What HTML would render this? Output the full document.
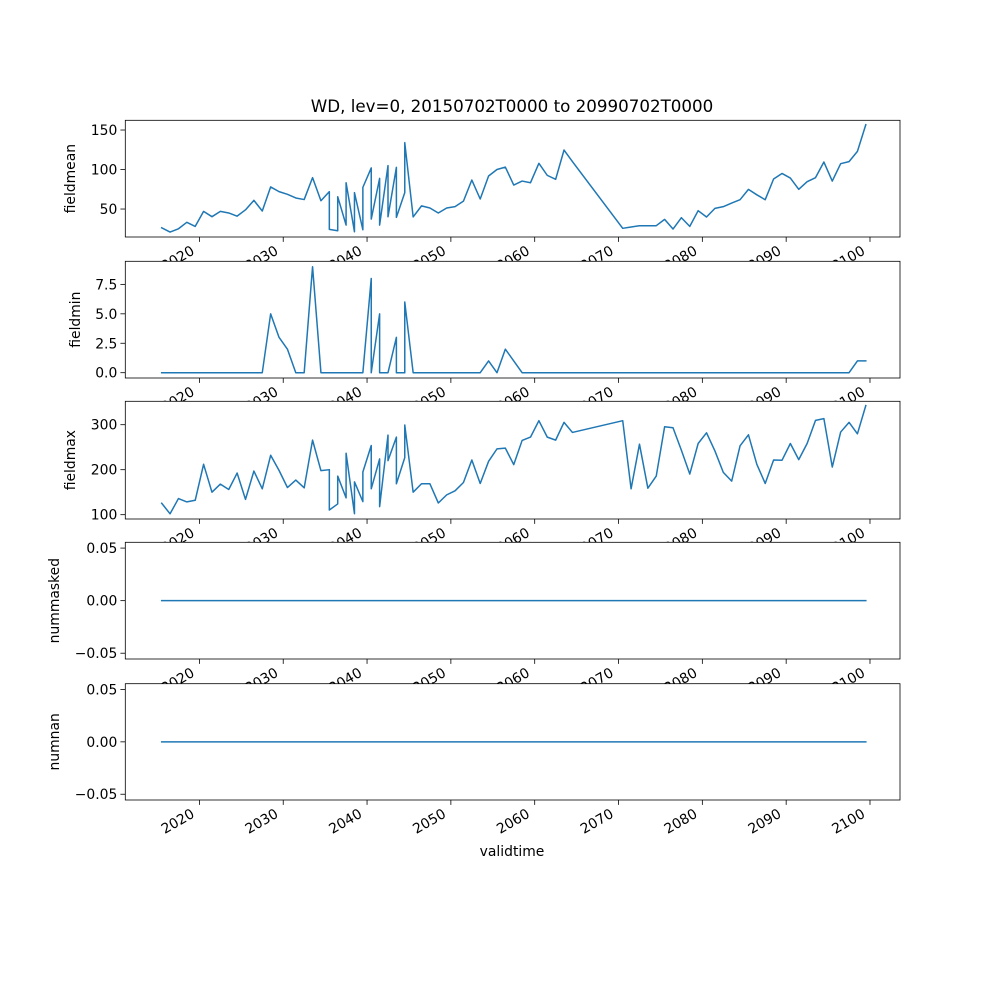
<!DOCTYPE html>
<html><head><meta charset="utf-8"><style>
html,body{margin:0;padding:0;background:#fff}
svg{display:block}
text{font-family:"DejaVu Sans","Liberation Sans",sans-serif;fill:#000}
</style></head><body>
<svg id="chart" width="1000" height="1000" viewBox="0 0 1000 1000" xmlns="http://www.w3.org/2000/svg">
<rect width="1000" height="1000" fill="#fff"/>
<text x="512" y="112" font-size="16.7" text-anchor="middle">WD, lev=0, 20150702T0000 to 20990702T0000</text>
<text x="512" y="856" font-size="13.9" text-anchor="middle">validtime</text>
</svg>
<script>
const pre=[2015.5,2016.5,2017.5,2018.5,2019.5,2020.5,2021.5,2022.5,2023.5,2024.5,2025.5,2026.5,2027.5,2028.5,2029.5,2030.5,2031.5,2032.5,2033.5,2034.5];
const times=[2015.5,2016.5,2017.5,2018.5,2019.5,2020.5,2021.5,2022.5,2023.5,2024.5,2025.5,2026.5,2027.5,2028.5,2029.5,2030.5,2031.5,2032.5,2033.5,2034.5,
2035.5,2035.5,2036.5,2036.5,2037.5,2037.5,2038.5,2038.5,2039.5,2039.5,2040.5,2040.5,2041.5,2041.5,2042.5,2042.5,2043.5,2043.5,2044.5,2044.5,
2045.5,2046.5,2047.5,2048.5,2049.5,2050.5,2051.5,2052.5,2053.5,2054.5,2055.5,2056.5,2057.5,2058.5,2059.5,2060.5,2061.5,2062.5,2063.5,2064.5,
2070.5,2071.5,2072.5,2073.5,2074.5,2075.5,2076.5,2077.5,2078.5,2079.5,2080.5,2081.5,2082.5,2083.5,2084.5,2085.5,2086.5,2087.5,2088.5,2089.5,2090.5,2091.5,2092.5,2093.5,2094.5,2095.5,2096.5,2097.5,2098.5,2099.5];
const fieldmean=[26.3,20.9,25,33.2,28,47,40.3,47,45,41,49,61,47.5,78,72,68.6,64,62,89.7,60.5,
72,24.3,22.5,65.6,29.7,83.3,21.3,70.7,23.8,77.4,102,37.3,88.8,29.7,105,40.3,102.7,39.5,70.7,134,
40,54,51.3,45,51.3,53,60,86.7,62.7,91.8,100,103,80.4,85.4,83.3,107.8,92.6,87.6,124.7,110,
25.6,27.2,28.9,28.9,28.9,36.9,24.7,39,28,47.9,39.9,50.8,53,57.6,61.8,74.9,68,61.8,88,95,89.2,74.9,84.6,89.7,109.5,85.4,107.4,110,123,156.7];
const fieldmin=[0,0,0,0,0,0,0,0,0,0,0,0,0,5,3,2,0,0,9,0,
0,0,0,0,0,0,0,0,0,0,8,0,5,0,0,0,3,0,0,6,
0,0,0,0,0,0,0,0,0,1,0,2,1,0,0,0,0,0,0,0,
0,0,0,0,0,0,0,0,0,0,0,0,0,0,0,0,0,0,0,0,0,0,0,0,0,0,0,0,1,1];
const fieldmax=[125.4,102,135.8,128.4,132,212,150,168,156,192.5,134,197,157.5,232,198.5,160.4,176.9,159.7,265.7,197.8,
200,110.4,123.9,185.8,137.3,236.6,102.2,173,129,194.8,253.7,157.5,223.9,117.9,276.9,220.2,272.4,168.7,226.8,299.2,
150,168.7,168.7,126,144,153,171.6,221.6,169.4,218.6,246.3,247.8,211.2,265,272.4,308.9,272.4,265.7,305.2,282.8,
308.9,157.5,256.7,158.9,185.8,295.5,293.3,243.3,190.3,258.2,282,241.7,194,174.6,253,277.6,212,169.4,221.6,220.9,258.2,222.4,258.2,309.6,313.4,205.9,283.6,305.2,279.8,342.5];
const nummasked=times.map(()=>0);
const numnan=times.map(()=>0);
const xTicks=[2020,2030,2040,2050,2060,2070,2080,2090,2100];
const meanTicks=[50,100,150];
const minTicks=[0,2.5,5,7.5];
const maxTicks=[100,200,300];
const zeroTicks=[-0.05,0,0.05];

const NS="http://www.w3.org/2000/svg";
const svg=document.getElementById('chart');
const L=125.3,R=900;
const X0=2011.16,X1=2103.58;
function xs(t){return L+(t-X0)/(X1-X0)*(R-L);}
function mk(tag,attrs,parent){const e=document.createElementNS(NS,tag);for(const k in attrs)e.setAttribute(k,attrs[k]);(parent||svg).appendChild(e);return e;}

const panels=[
 {name:'fieldmean',data:fieldmean,top:120.3,bot:237,lo:14.6,hi:162.3,ticks:meanTicks,fmt:v=>String(v),lx:75},
 {name:'fieldmin',data:fieldmin,top:261.3,bot:378,lo:-0.45,hi:9.46,ticks:minTicks,fmt:v=>v.toFixed(1),lx:80},
 {name:'fieldmax',data:fieldmax,top:401.3,bot:519,lo:90.4,hi:352,ticks:maxTicks,fmt:v=>String(v),lx:75},
 {name:'nummasked',data:nummasked,top:542.3,bot:659,lo:-0.0555,hi:0.0555,ticks:zeroTicks,fmt:v=>(v<0?'\u22120.05':v.toFixed(2)),lx:59},
 {name:'numnan',data:numnan,top:683.7,bot:800,lo:-0.0555,hi:0.0555,ticks:zeroTicks,fmt:v=>(v<0?'\u22120.05':v.toFixed(2)),lx:59}
];
panels.forEach((p,i)=>{
 const g=mk('g',{});
 
 
 const ys=v=>p.bot-(v-p.lo)/(p.hi-p.lo)*(p.bot-p.top);
 const bg=mk('rect',{x:L,y:p.top,width:R-L,height:p.bot-p.top,fill:'#fff'},g);
 
 
 const d=p.data.map((v,k)=>(k?'L':'M')+xs(times[k]).toFixed(2)+','+ys(v).toFixed(2)).join('');
 const line=mk('path',{d:d,fill:'none',stroke:'#1f77b4','stroke-width':1.5,'stroke-linejoin':'round','stroke-linecap':'square'},g);
 
 
 const fr=mk('rect',{x:L,y:p.top,width:R-L,height:p.bot-p.top,fill:'none',stroke:'#000','stroke-width':0.8},g);
 
 
 p.ticks.forEach(v=>{
  const y=ys(v);
  mk('line',{x1:L-4.9,x2:L,y1:y,y2:y,stroke:'#000','stroke-width':0.8},g);
  const t=mk('text',{x:L-8,y:y+5,'font-size':13.9,'text-anchor':'end'},g);
  t.textContent=p.fmt(v);
  
  
 });
 xTicks.forEach(v=>{
  const x=xs(v);
  mk('line',{x1:x,x2:x,y1:p.bot,y2:p.bot+4.9,stroke:'#000','stroke-width':0.8},g);
  const t=mk('text',{transform:'translate('+(x-4).toFixed(1)+','+(p.bot+16.5).toFixed(1)+') rotate(-30)','font-size':13.9,'text-anchor':'end'},g);
  t.textContent=String(v);
  
  
 });
 const yl=mk('text',{transform:'translate('+p.lx+','+((p.top+p.bot)/2)+') rotate(-90)','font-size':13.9,'text-anchor':'middle'},g);
 yl.textContent=p.name;
 
 
});
</script>
</body></html>
